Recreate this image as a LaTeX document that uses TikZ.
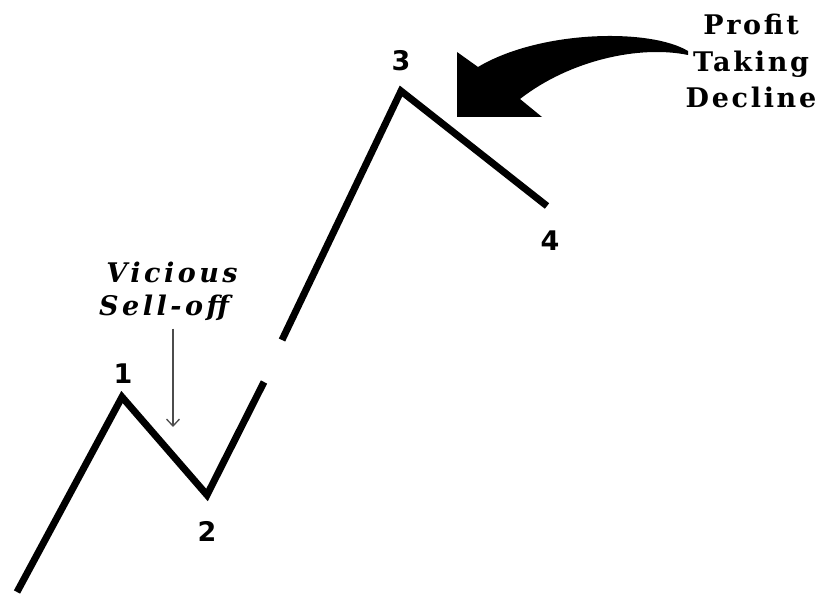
\documentclass[tikz,border=0pt]{standalone}
\usepackage{fontspec}
\setmainfont{DejaVu Serif}
\newfontfamily\numfont{DejaVu Sans}
\usepackage{tikz}
\usetikzlibrary{positioning,arrows.meta}

\begin{document}
\begin{tikzpicture}[
    x=1pt, y=-1pt,
    wave/.style={line width=7pt, line join=miter},
    numlabel/.style={font=\numfont\bfseries\fontsize{27}{30}\selectfont, inner sep=0pt, anchor=base},
    callout/.style={font=\bfseries\fontsize{27}{36.5}\selectfont\addfontfeature{LetterSpace=10}, align=center, inner sep=0pt},
    sellnote/.style={font=\bfseries\itshape\fontsize{27}{33}\selectfont\addfontfeature{LetterSpace=13}, align=center, inner sep=0pt},
    thinarrow/.style={-{Straight Barb[length=7pt,width=13pt]}, line width=1.3pt, black!70}
]
    \useasboundingbox (0,0) rectangle (823,599);

    % turning points of the price wave
    \coordinate (p0) at (17,592);
    \coordinate (p1) at (122,397);
    \coordinate (p2) at (207,495);
    \coordinate (gapL) at (264,382);
    \coordinate (gapU) at (282,340);
    \coordinate (p3) at (401,91);
    \coordinate (p4) at (547,206);

    \draw[wave] (p0) -- (p1) -- (p2) -- (gapL);
    \draw[wave] (gapU) -- (p3) -- (p4);

    % wave numbers
    \node[numlabel] (n1) at (123,383) {1};
    \node[numlabel] (n2) at (207,541) {2};
    \node[numlabel] (n3) at (401,71) {3};
    \node[numlabel] (n4) at (550,251) {4};

    % sell-off note
    \node[sellnote] (sell) at (172,291) {Vicious\\\hspace*{-16pt}Sell-off};
    \coordinate (sellTip) at (173,427);
    \draw[thinarrow] (sell.south -| sellTip) ++(0,8) -- (sellTip);

    % profit taking note and big arrow
    \node[callout] (profit) at (751,61) {Profit\\Taking\\Decline};
    \fill (688,51) .. controls (650,28) and (540,30) .. (478,67)
        -- (457,52) -- (457,117) -- (542,117) -- (520,99)
        .. controls (570,60) and (640,45) .. (688,55) -- cycle;
\end{tikzpicture}
\end{document}
